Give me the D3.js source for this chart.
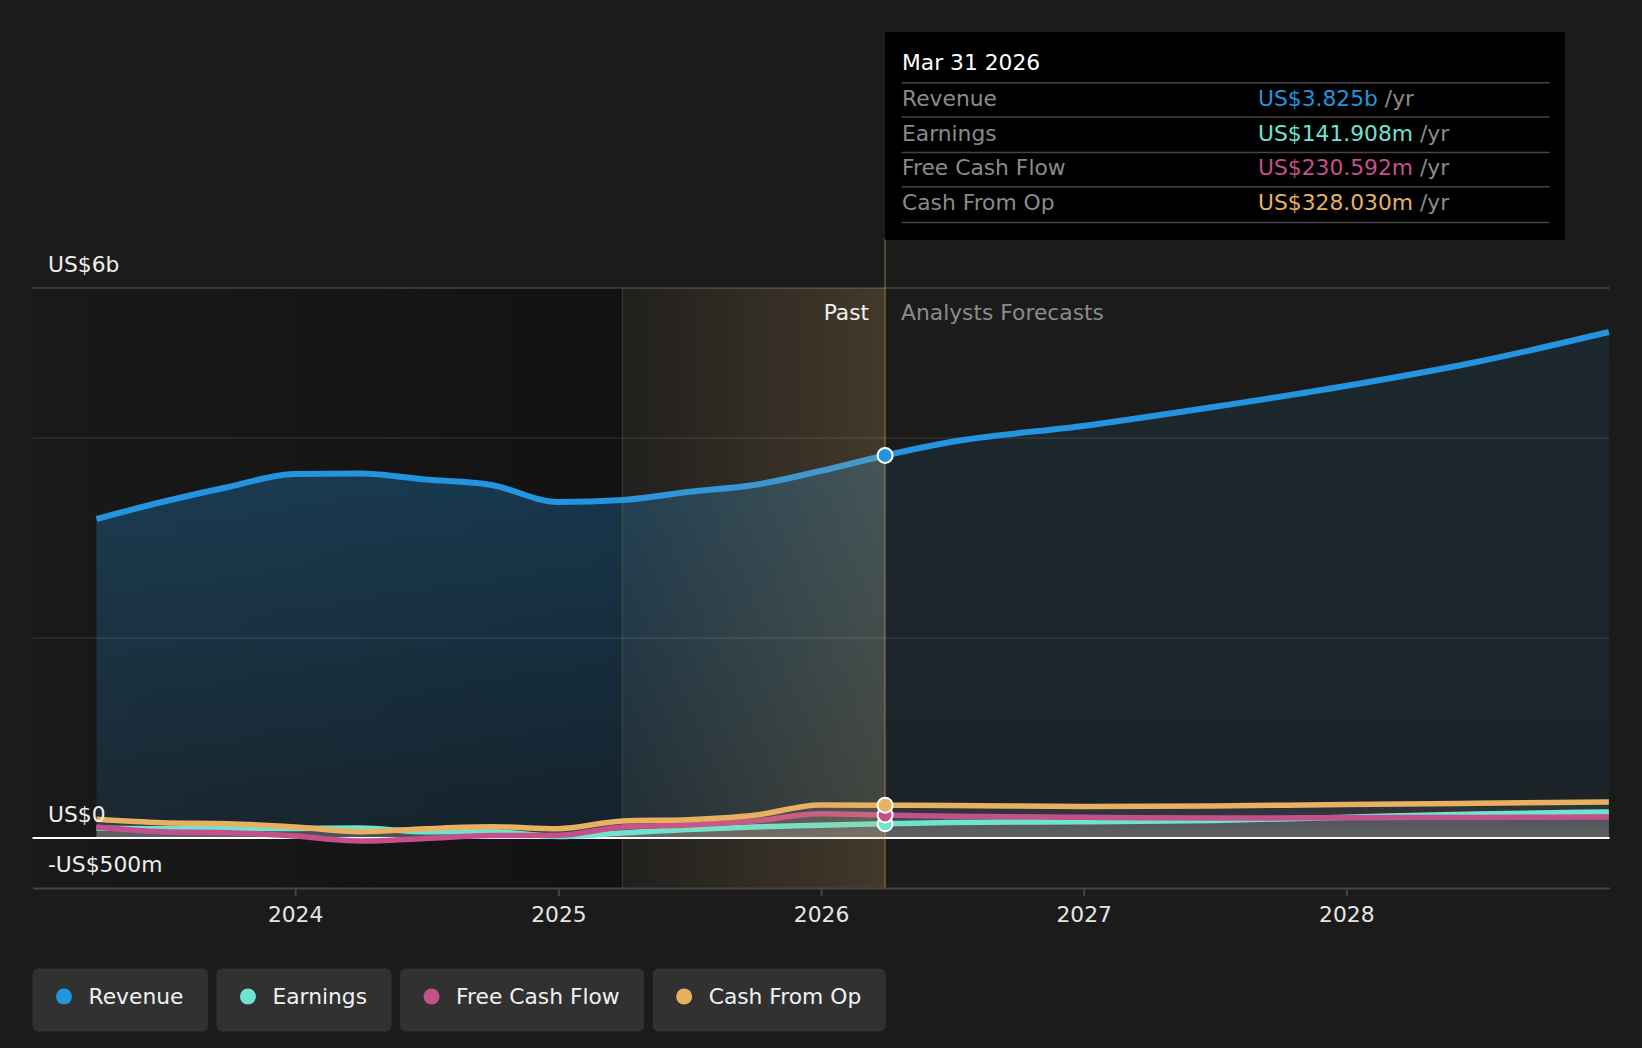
<!DOCTYPE html>
<html lang="en">
<head>
<meta charset="UTF-8">
<title>Revenue, Earnings and Cash Flow</title>
<script src="https://cdn.jsdelivr.net/npm/d3@7/dist/d3.min.js"></script>
<style>
  html, body { margin: 0; padding: 0; background: #1b1b1b; }
  svg { display: block; font-family: "DejaVu Sans", sans-serif; }
  .ylabel { fill: #eeeeee; font-size: 21.8px; }
  .xaxis text { fill: #e6e6e6; font-size: 21.8px; font-family: "DejaVu Sans", sans-serif; }
  .xaxis path, .xaxis line { stroke: #444; stroke-width: 2px; }
  .tip-label { fill: #8a8a8a; font-size: 21.8px; }
  .legend text { fill: #f0f0f0; font-size: 21.8px; }
</style>
</head>
<body>
<svg width="1642" height="1048"></svg>
<script>
// quarterly actuals, values in US$ billions
const pastDates = ["2023-03-31", "2023-06-30", "2023-09-30", "2023-12-31", "2024-03-31", "2024-06-30",
  "2024-09-30", "2024-12-31", "2025-03-31", "2025-06-30", "2025-09-30", "2025-12-31", "2026-03-31"];
const pastRevenue  = [3.19, 3.36, 3.51, 3.64, 3.645, 3.585, 3.53, 3.36, 3.38, 3.46, 3.53, 3.67, 3.825];
const pastEarnings = [0.10, 0.093, 0.093, 0.095, 0.10, 0.062, 0.063, 0.015, 0.05, 0.085, 0.11, 0.127, 0.141908];
const pastFcf      = [0.11, 0.063, 0.053, 0.02, -0.03, -0.005, 0.025, 0.027, 0.11, 0.13, 0.17, 0.243, 0.230592];
const pastCfo      = [0.187, 0.153, 0.143, 0.11, 0.063, 0.093, 0.113, 0.093, 0.17, 0.183, 0.227, 0.33, 0.32803];

// analyst forecasts
const forecastDates    = ["2026-06-30", "2026-12-31", "2027-06-30", "2027-12-31", "2028-06-30", "2028-12-31"];
const forecastRevenue  = [3.96, 4.12, 4.31, 4.52, 4.76, 5.06];
const forecastEarnings = [0.155, 0.163, 0.175, 0.208, 0.24, 0.26];
const forecastFcf      = [0.218, 0.207, 0.2, 0.203, 0.206, 0.21];
const forecastCfo      = [0.326, 0.314, 0.32, 0.336, 0.347, 0.36];

const seriesNames  = ["Revenue", "Earnings", "Free Cash Flow", "Cash From Op"];
const seriesColors = ["#2394df", "#6de3d0", "#c4508b", "#e8b061"];

const yTickValues = [-0.5, 0, 5.5];
const yTickLabels = ["-US$500m", "US$0", "US$6b"];
const gridValues  = [2, 4];
const xTickYears  = [2024, 2025, 2026, 2027, 2028];

const tipDate = "2026-03-31";
const tipTitle = "Mar 31 2026";
const bandStart = "2025-03-31";

const parse = d3.timeParse("%Y-%m-%d");
const svg = d3.select("svg");

const x = d3.scaleTime()
    .domain([new Date(2023, 0, 1), new Date(2029, 0, 1)])
    .range([32.5, 1609.6]);
const y = d3.scaleLinear().domain([-0.5, 5.5]).range([888, 288]);

const plotLeft = x.range()[0], plotRight = x.range()[1];
const plotTop = y(5.5), plotBottom = y(-0.5);
const xNow = x(parse(tipDate));
const xBand = x(parse(bandStart));

const allDates = pastDates.concat(forecastDates).map(parse);
function build(past, fut) {
    return past.concat(fut).map((v, i) => ({ date: allDates[i], value: v }));
}
const series = [
    build(pastRevenue, forecastRevenue),
    build(pastEarnings, forecastEarnings),
    build(pastFcf, forecastFcf),
    build(pastCfo, forecastCfo)
];

// gradients and clips
const defs = svg.append("defs");
function grad(id, x1, y1, x2, y2, stops) {
    const g = defs.append("linearGradient").attr("id", id)
        .attr("gradientUnits", "userSpaceOnUse")
        .attr("x1", x1).attr("y1", y1).attr("x2", x2).attr("y2", y2);
    stops.forEach(s => g.append("stop").attr("offset", s[0])
        .attr("stop-color", s[1]).attr("stop-opacity", s[2]));
}
grad("pastBg", plotLeft, 0, xBand, 0, [[0, "#191919", 1], [1, "#121212", 1]]);
grad("band", xBand, 0, xNow, 0, [[0, "#e0b066", 0.03], [1, "#e0b066", 0.2]]);
grad("revPast", 0, y(3.9), 0, y(0), [[0, "#2394df", 0.3], [1, "#2394df", 0.12]]);
grad("revFut", 0, y(5), 0, y(0), [[0, "#2394df", 0.1], [1, "#2394df", 0.07]]);
grad("smallFill", 0, y(0.35), 0, y(0), [[0, "#8c8c8c", 0.14], [1, "#8c8c8c", 0.26]]);

defs.append("clipPath").attr("id", "clipPast").append("rect")
    .attr("x", plotLeft).attr("y", 0).attr("width", xNow - plotLeft).attr("height", 1048);
defs.append("clipPath").attr("id", "clipFut").append("rect")
    .attr("x", xNow).attr("y", 0).attr("width", plotRight - xNow).attr("height", 1048);

// darker past background
svg.append("rect").attr("x", plotLeft).attr("y", plotTop)
    .attr("width", xBand - plotLeft).attr("height", plotBottom - plotTop)
    .attr("fill", "url(#pastBg)");

const area = d3.area().curve(d3.curveMonotoneX)
    .x(d => x(d.date)).y0(y(0)).y1(d => y(d.value));
const line = d3.line().curve(d3.curveMonotoneX)
    .x(d => x(d.date)).y(d => y(d.value));

// revenue fill, split at the last actual
svg.append("path").datum(series[0]).attr("d", area)
    .attr("fill", "url(#revPast)").attr("clip-path", "url(#clipPast)");
svg.append("path").datum(series[0]).attr("d", area)
    .attr("fill", "url(#revFut)").attr("clip-path", "url(#clipFut)");

// grid
svg.selectAll(".grid").data(gridValues).enter().append("line")
    .attr("x1", plotLeft).attr("x2", plotRight)
    .attr("y1", d => y(d)).attr("y2", d => y(d))
    .attr("stroke", "rgba(255,255,255,0.1)").attr("stroke-width", 1.5);
svg.append("line").attr("x1", plotLeft).attr("x2", plotRight)
    .attr("y1", plotTop).attr("y2", plotTop)
    .attr("stroke", "rgba(255,255,255,0.2)").attr("stroke-width", 1.5);

// small series fills
series.slice(1).forEach(s => {
    svg.append("path").datum(s).attr("d", area).attr("fill", "url(#smallFill)");
});

// zero line
svg.append("line").attr("x1", plotLeft).attr("x2", plotRight)
    .attr("y1", y(0)).attr("y2", y(0))
    .attr("stroke", "#fff").attr("stroke-width", 2);

// lines
series.forEach((s, i) => {
    svg.append("path").datum(s).attr("d", line)
        .attr("fill", "none").attr("stroke", seriesColors[i])
        .attr("stroke-width", i === 0 ? 6 : 5.5).attr("stroke-linejoin", "round");
});

// highlighted last year of actuals
svg.append("rect").attr("x", xBand).attr("y", plotTop)
    .attr("width", xNow - xBand).attr("height", plotBottom - plotTop)
    .attr("fill", "url(#band)");
svg.append("line").attr("x1", xBand).attr("x2", xBand)
    .attr("y1", plotTop).attr("y2", plotBottom)
    .attr("stroke", "rgba(232,176,97,0.15)").attr("stroke-width", 1.5);
svg.append("line").attr("x1", xNow).attr("x2", xNow)
    .attr("y1", 238).attr("y2", plotBottom)
    .attr("stroke", "rgba(232,176,97,0.38)").attr("stroke-width", 1.5);

// x axis
const xAxis = d3.axisBottom(x)
    .tickValues(xTickYears.map(yr => new Date(yr, 0, 1)))
    .tickFormat(d3.timeFormat("%Y"))
    .tickSize(8).tickSizeOuter(0).tickPadding(11);
svg.append("g").attr("class", "xaxis")
    .attr("transform", `translate(0,${plotBottom})`)
    .call(xAxis);

// markers at the last actual
const nowIdx = pastDates.length - 1;
[1, 2, 3, 0].forEach(i => {
    const d = series[i][nowIdx];
    svg.append("circle").attr("cx", x(d.date)).attr("cy", y(d.value))
        .attr("r", 7.5).attr("fill", seriesColors[i])
        .attr("stroke", "#fff").attr("stroke-width", 2);
});

// Past / forecast labels
svg.append("text").attr("x", xNow - 16).attr("y", 320)
    .attr("text-anchor", "end").attr("fill", "#f0f0f0")
    .style("font-size", "21.8px").text("Past");
svg.append("text").attr("x", xNow + 16).attr("y", 320)
    .attr("fill", "#8a8a8a").style("font-size", "21.8px")
    .text("Analysts Forecasts");

// y labels
svg.selectAll(".ylabel").data(yTickValues).enter().append("text")
    .attr("class", "ylabel")
    .attr("x", 48).attr("y", d => y(d) - 16)
    .text((d, i) => yTickLabels[i]);

// tooltip
const tip = svg.append("g");
tip.append("rect").attr("x", xNow).attr("y", 32)
    .attr("width", 1565 - xNow).attr("height", 208).attr("fill", "#000");
tip.append("text").attr("x", 902).attr("y", 70).attr("fill", "#fff")
    .style("font-size", "21.8px").text(tipTitle);
const sepY = [82.7, 117, 152.5, 186.7, 222.5];
sepY.forEach(sy => tip.append("line").attr("x1", 901.5).attr("x2", 1549.5)
    .attr("y1", sy).attr("y2", sy).attr("stroke", "#444").attr("stroke-width", 1.5));
const fmtVal = v => v >= 1 ? "US$" + d3.format(".3f")(v) + "b" : "US$" + d3.format(".3f")(v * 1000) + "m";
series.forEach((s, i) => {
    const by = 106 + i * 34.7;
    tip.append("text").attr("class", "tip-label").attr("x", 902).attr("y", by).text(seriesNames[i]);
    const t = tip.append("text").attr("x", 1258).attr("y", by).style("font-size", "21.8px");
    t.append("tspan").attr("fill", seriesColors[i]).text(fmtVal(s[nowIdx].value));
    t.append("tspan").attr("fill", "#8a8a8a").text(" /yr");
});

// legend
const legend = svg.append("g").attr("class", "legend");
let lx = 32.5;
seriesNames.forEach((name, i) => {
    const g = legend.append("g").attr("transform", `translate(${lx},968.5)`);
    const r = g.append("rect").attr("height", 63).attr("rx", 6).attr("fill", "#313131");
    g.append("circle").attr("cx", 31.5).attr("cy", 28).attr("r", 8).attr("fill", seriesColors[i]);
    const t = g.append("text").attr("x", 56).attr("y", 35).text(name);
    const w = 56 + t.node().getComputedTextLength() + 24.5;
    r.attr("width", w);
    lx += w + 8.5;
});
</script>
</body>
</html>
